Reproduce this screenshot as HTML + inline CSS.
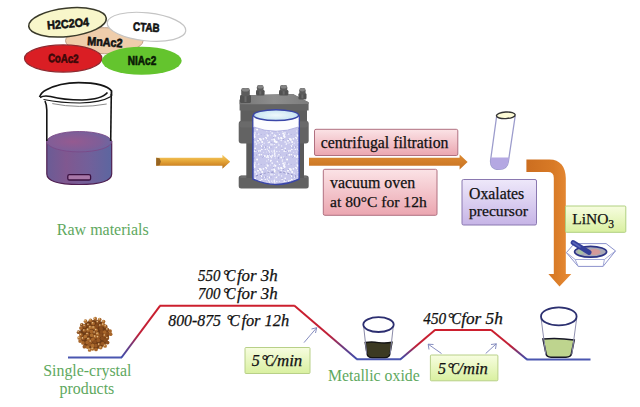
<!DOCTYPE html>
<html><head><meta charset="utf-8">
<style>
html,body{margin:0;padding:0;background:#fff;}
body{width:640px;height:407px;overflow:hidden;position:relative;}
svg{position:absolute;left:0;top:0;}
.ser{font-family:"Liberation Serif",serif;}
.san{font-family:"Liberation Sans",sans-serif;font-weight:bold;}
</style></head>
<body>
<svg width="640" height="407" viewBox="0 0 640 407">
<defs>
  <linearGradient id="pinkG" x1="0" y1="0" x2="0" y2="1">
    <stop offset="0" stop-color="#fbe3e6"/><stop offset="1" stop-color="#eba6b0"/>
  </linearGradient>
  <linearGradient id="lavG" x1="0" y1="0" x2="0" y2="1">
    <stop offset="0" stop-color="#eee8fa"/><stop offset="1" stop-color="#c6b4e6"/>
  </linearGradient>
  <linearGradient id="grnG" x1="0" y1="0" x2="0" y2="1">
    <stop offset="0" stop-color="#f7fde0"/><stop offset="1" stop-color="#d9f0a0"/>
  </linearGradient>
  <linearGradient id="arrG" x1="0" y1="0" x2="0" y2="1">
    <stop offset="0" stop-color="#f6d070"/><stop offset="0.35" stop-color="#eab040"/><stop offset="0.7" stop-color="#d48c28"/><stop offset="1" stop-color="#a86a1a"/>
  </linearGradient>
  <linearGradient id="liqG" x1="0" y1="0" x2="1" y2="0">
    <stop offset="0" stop-color="#6a5c96"/><stop offset="0.3" stop-color="#805890"/><stop offset="0.65" stop-color="#72609a"/><stop offset="1" stop-color="#5c66a0"/>
  </linearGradient>
  <radialGradient id="liqTop" cx="0.4" cy="0.5" r="0.6">
    <stop offset="0" stop-color="#955a90"/><stop offset="0.7" stop-color="#7f5e98"/><stop offset="1" stop-color="#6c66a0"/>
  </radialGradient>
  <linearGradient id="lidG" x1="0" y1="0" x2="1" y2="0">
    <stop offset="0" stop-color="#767676"/><stop offset="0.5" stop-color="#8e8e8e"/><stop offset="1" stop-color="#7c7c7c"/>
  </linearGradient>
  <radialGradient id="topG" cx="0.5" cy="0.5" r="0.55">
    <stop offset="0" stop-color="#eef8fc"/><stop offset="0.75" stop-color="#cfe8f4"/><stop offset="1" stop-color="#a8c8e8"/>
  </radialGradient>
  <linearGradient id="elbG" x1="0" y1="0" x2="1" y2="0">
    <stop offset="0" stop-color="#cc6e20"/><stop offset="0.6" stop-color="#d87a26"/><stop offset="1" stop-color="#e88c36"/>
  </linearGradient>
  <linearGradient id="arr2G" x1="0" y1="0" x2="0" y2="1">
    <stop offset="0" stop-color="#dc8a32"/><stop offset="1" stop-color="#c87222"/>
  </linearGradient>
  <linearGradient id="rise1" x1="0" y1="1" x2="0" y2="0">
    <stop offset="0" stop-color="#3e4cac"/><stop offset="0.22" stop-color="#6c3a80"/><stop offset="0.45" stop-color="#c02038"/><stop offset="1" stop-color="#cc1e2c"/>
  </linearGradient>
  <pattern id="speck" width="30" height="30" patternUnits="userSpaceOnUse"><rect width="30" height="30" fill="#c8c8ec"/><circle cx="4.9" cy="20.7" r="0.80" fill="#ffffff"/><circle cx="25.3" cy="29.7" r="0.71" fill="#fafaff"/><circle cx="5.5" cy="15.8" r="0.88" fill="#ffffff"/><circle cx="11.1" cy="17.6" r="0.49" fill="#f4f4ff"/><circle cx="27.6" cy="20.8" r="0.69" fill="#ffffff"/><circle cx="18.5" cy="1.0" r="0.63" fill="#ffffff"/><circle cx="20.8" cy="19.5" r="0.97" fill="#ffffff"/><circle cx="4.6" cy="24.5" r="0.52" fill="#ffffff"/><circle cx="13.6" cy="16.6" r="0.64" fill="#ffffff"/><circle cx="4.5" cy="20.0" r="0.71" fill="#f4f4ff"/><circle cx="2.2" cy="5.9" r="0.82" fill="#fafaff"/><circle cx="29.7" cy="2.1" r="0.76" fill="#fafaff"/><circle cx="24.8" cy="6.0" r="0.96" fill="#fafaff"/><circle cx="12.3" cy="11.0" r="0.70" fill="#ffffff"/><circle cx="9.5" cy="14.5" r="0.60" fill="#ffffff"/><circle cx="4.8" cy="21.5" r="0.99" fill="#ffffff"/><circle cx="14.7" cy="16.5" r="0.86" fill="#f4f4ff"/><circle cx="17.1" cy="9.6" r="0.99" fill="#ffffff"/><circle cx="5.4" cy="5.1" r="0.64" fill="#e8e8fa"/><circle cx="10.4" cy="17.9" r="0.62" fill="#ffffff"/><circle cx="5.1" cy="27.7" r="0.55" fill="#ffffff"/><circle cx="11.2" cy="20.5" r="0.82" fill="#f4f4ff"/><circle cx="12.2" cy="29.7" r="0.98" fill="#fafaff"/><circle cx="0.4" cy="10.4" r="0.73" fill="#f4f4ff"/><circle cx="28.1" cy="7.4" r="0.76" fill="#ffffff"/><circle cx="24.2" cy="23.2" r="0.72" fill="#e8e8fa"/><circle cx="1.6" cy="7.7" r="0.61" fill="#ffffff"/><circle cx="7.5" cy="11.8" r="0.93" fill="#f4f4ff"/><circle cx="29.5" cy="22.4" r="0.71" fill="#e8e8fa"/><circle cx="4.2" cy="19.5" r="0.95" fill="#ffffff"/><circle cx="0.8" cy="6.4" r="0.91" fill="#f4f4ff"/><circle cx="26.4" cy="18.0" r="0.68" fill="#fafaff"/><circle cx="27.1" cy="14.3" r="0.53" fill="#fafaff"/><circle cx="8.3" cy="23.0" r="0.46" fill="#f4f4ff"/><circle cx="28.6" cy="0.7" r="0.78" fill="#f4f4ff"/><circle cx="25.6" cy="17.5" r="0.59" fill="#ffffff"/><circle cx="22.5" cy="24.4" r="0.53" fill="#f4f4ff"/><circle cx="2.8" cy="2.8" r="0.46" fill="#ffffff"/><circle cx="23.6" cy="2.2" r="0.52" fill="#e8e8fa"/><circle cx="3.8" cy="16.2" r="0.63" fill="#ffffff"/><circle cx="26.6" cy="18.6" r="0.55" fill="#ffffff"/><circle cx="6.0" cy="22.3" r="0.87" fill="#fafaff"/><circle cx="21.3" cy="26.2" r="0.88" fill="#ffffff"/><circle cx="11.6" cy="25.9" r="0.67" fill="#fafaff"/><circle cx="5.3" cy="21.3" r="0.59" fill="#fafaff"/><circle cx="9.4" cy="1.3" r="0.66" fill="#e8e8fa"/><circle cx="21.8" cy="29.7" r="0.90" fill="#fafaff"/><circle cx="14.7" cy="17.2" r="0.75" fill="#ffffff"/><circle cx="15.2" cy="22.0" r="0.98" fill="#e8e8fa"/><circle cx="8.7" cy="18.7" r="0.87" fill="#f4f4ff"/><circle cx="1.9" cy="24.4" r="0.99" fill="#e8e8fa"/><circle cx="2.0" cy="19.7" r="0.68" fill="#ffffff"/><circle cx="19.6" cy="18.8" r="0.89" fill="#ffffff"/><circle cx="15.2" cy="28.4" r="0.82" fill="#ffffff"/><circle cx="14.1" cy="15.4" r="0.93" fill="#ffffff"/><circle cx="6.8" cy="1.5" r="0.69" fill="#f4f4ff"/><circle cx="8.3" cy="17.7" r="0.67" fill="#ffffff"/><circle cx="13.7" cy="7.1" r="0.66" fill="#ffffff"/><circle cx="6.8" cy="27.4" r="0.81" fill="#ffffff"/><circle cx="14.4" cy="14.8" r="0.84" fill="#f4f4ff"/><circle cx="23.4" cy="18.8" r="0.87" fill="#fafaff"/><circle cx="21.0" cy="20.5" r="0.58" fill="#ffffff"/><circle cx="11.6" cy="18.4" r="0.90" fill="#ffffff"/><circle cx="4.9" cy="6.1" r="0.93" fill="#f4f4ff"/><circle cx="2.7" cy="5.3" r="0.74" fill="#fafaff"/><circle cx="28.3" cy="22.3" r="0.70" fill="#ffffff"/><circle cx="29.7" cy="5.0" r="0.69" fill="#e8e8fa"/><circle cx="11.2" cy="17.5" r="0.55" fill="#ffffff"/><circle cx="28.5" cy="9.7" r="0.59" fill="#f4f4ff"/><circle cx="27.0" cy="15.2" r="0.58" fill="#e8e8fa"/><circle cx="21.5" cy="4.7" r="0.67" fill="#ffffff"/><circle cx="13.1" cy="18.5" r="0.60" fill="#f4f4ff"/><circle cx="20.0" cy="18.7" r="0.50" fill="#f4f4ff"/><circle cx="1.0" cy="24.3" r="0.96" fill="#e8e8fa"/><circle cx="0.6" cy="15.0" r="0.47" fill="#fafaff"/><circle cx="13.2" cy="13.5" r="0.99" fill="#fafaff"/><circle cx="4.4" cy="29.2" r="0.55" fill="#e8e8fa"/><circle cx="26.8" cy="11.1" r="0.52" fill="#ffffff"/><circle cx="15.9" cy="1.5" r="0.55" fill="#ffffff"/><circle cx="26.5" cy="7.3" r="0.77" fill="#fafaff"/><circle cx="27.8" cy="26.5" r="0.46" fill="#fafaff"/><circle cx="2.2" cy="13.1" r="0.91" fill="#f4f4ff"/><circle cx="4.6" cy="14.9" r="0.74" fill="#fafaff"/><circle cx="18.6" cy="14.1" r="0.89" fill="#e8e8fa"/><circle cx="4.6" cy="4.6" r="0.61" fill="#ffffff"/><circle cx="26.7" cy="2.1" r="0.49" fill="#fafaff"/><circle cx="2.9" cy="24.8" r="0.65" fill="#e8e8fa"/><circle cx="1.8" cy="1.1" r="0.72" fill="#ffffff"/><circle cx="4.7" cy="3.1" r="0.96" fill="#fafaff"/><circle cx="7.5" cy="6.0" r="0.56" fill="#fafaff"/><circle cx="12.7" cy="9.7" r="0.57" fill="#fafaff"/><circle cx="1.2" cy="10.6" r="0.74" fill="#f4f4ff"/><circle cx="0.6" cy="11.1" r="0.71" fill="#ffffff"/><circle cx="24.2" cy="27.2" r="0.82" fill="#f4f4ff"/><circle cx="20.4" cy="19.4" r="0.79" fill="#fafaff"/><circle cx="27.3" cy="29.1" r="0.66" fill="#ffffff"/><circle cx="28.1" cy="23.8" r="0.46" fill="#e8e8fa"/><circle cx="5.2" cy="8.0" r="0.46" fill="#ffffff"/><circle cx="19.4" cy="4.8" r="0.96" fill="#fafaff"/><circle cx="15.0" cy="12.4" r="0.57" fill="#fafaff"/><circle cx="16.6" cy="23.3" r="0.86" fill="#e8e8fa"/><circle cx="27.3" cy="7.2" r="0.78" fill="#e8e8fa"/><circle cx="16.2" cy="24.4" r="0.65" fill="#f4f4ff"/><circle cx="29.8" cy="27.4" r="0.98" fill="#ffffff"/><circle cx="29.5" cy="22.2" r="0.86" fill="#f4f4ff"/><circle cx="27.8" cy="15.7" r="0.94" fill="#fafaff"/><circle cx="8.9" cy="4.8" r="0.81" fill="#fafaff"/><circle cx="19.2" cy="23.1" r="0.86" fill="#f4f4ff"/><circle cx="7.6" cy="12.9" r="0.66" fill="#ffffff"/><circle cx="14.3" cy="1.2" r="0.92" fill="#f4f4ff"/><circle cx="1.1" cy="24.7" r="0.77" fill="#e8e8fa"/><circle cx="22.1" cy="21.9" r="1.00" fill="#ffffff"/><circle cx="4.3" cy="1.0" r="0.88" fill="#fafaff"/><circle cx="8.9" cy="25.0" r="0.70" fill="#ffffff"/><circle cx="6.8" cy="22.0" r="0.90" fill="#ffffff"/><circle cx="20.2" cy="0.8" r="0.95" fill="#f4f4ff"/><circle cx="15.0" cy="13.8" r="0.66" fill="#ffffff"/><circle cx="18.0" cy="20.8" r="0.93" fill="#ffffff"/><circle cx="11.2" cy="7.5" r="0.88" fill="#ffffff"/><circle cx="27.8" cy="6.0" r="0.92" fill="#ffffff"/><circle cx="22.4" cy="7.5" r="0.38" fill="#9c9cd4"/><circle cx="22.6" cy="28.1" r="0.38" fill="#9c9cd4"/><circle cx="18.5" cy="19.4" r="0.48" fill="#9c9cd4"/><circle cx="4.0" cy="23.1" r="0.47" fill="#9c9cd4"/><circle cx="1.0" cy="27.0" r="0.58" fill="#9c9cd4"/><circle cx="15.7" cy="0.3" r="0.56" fill="#9c9cd4"/><circle cx="8.5" cy="7.9" r="0.56" fill="#9c9cd4"/><circle cx="1.8" cy="22.7" r="0.50" fill="#9c9cd4"/><circle cx="15.3" cy="29.9" r="0.41" fill="#9c9cd4"/><circle cx="21.1" cy="14.6" r="0.48" fill="#9c9cd4"/><circle cx="16.5" cy="13.0" r="0.36" fill="#9c9cd4"/><circle cx="28.5" cy="4.3" r="0.45" fill="#9c9cd4"/><circle cx="13.3" cy="19.4" r="0.53" fill="#9c9cd4"/><circle cx="17.6" cy="13.2" r="0.41" fill="#9c9cd4"/><circle cx="25.6" cy="26.9" r="0.56" fill="#9c9cd4"/><circle cx="23.2" cy="27.1" r="0.54" fill="#9c9cd4"/><circle cx="10.3" cy="4.6" r="0.35" fill="#9c9cd4"/><circle cx="8.1" cy="20.8" r="0.42" fill="#9c9cd4"/><circle cx="28.9" cy="13.7" r="0.40" fill="#9c9cd4"/><circle cx="0.3" cy="4.7" r="0.39" fill="#9c9cd4"/><circle cx="16.5" cy="5.0" r="0.51" fill="#9c9cd4"/><circle cx="18.9" cy="3.7" r="0.38" fill="#9c9cd4"/><circle cx="21.0" cy="6.2" r="0.35" fill="#9c9cd4"/><circle cx="23.4" cy="6.6" r="0.49" fill="#9c9cd4"/><circle cx="7.3" cy="13.0" r="0.55" fill="#9c9cd4"/><circle cx="27.9" cy="21.0" r="0.55" fill="#9c9cd4"/><circle cx="12.0" cy="28.8" r="0.55" fill="#9c9cd4"/><circle cx="20.6" cy="26.5" r="0.45" fill="#9c9cd4"/><circle cx="17.3" cy="1.4" r="0.45" fill="#9c9cd4"/><circle cx="24.2" cy="14.5" r="0.36" fill="#9c9cd4"/><circle cx="19.2" cy="23.4" r="0.41" fill="#9c9cd4"/><circle cx="14.2" cy="7.9" r="0.56" fill="#9c9cd4"/><circle cx="8.7" cy="11.1" r="0.47" fill="#9c9cd4"/><circle cx="7.9" cy="27.5" r="0.42" fill="#9c9cd4"/><circle cx="3.5" cy="17.5" r="0.47" fill="#9c9cd4"/></pattern>
</defs>

<!-- ===== reagent ellipses ===== -->
<ellipse cx="104.3" cy="40.7" rx="38.8" ry="13" fill="#efcdab" stroke="#c0a088" stroke-width="1"/>
<ellipse cx="146.5" cy="26.8" rx="39.5" ry="14" fill="#ffffff" stroke="#c4c4c4" stroke-width="1.2" transform="rotate(6 146.5 26.8)"/>
<ellipse cx="67.5" cy="22.3" rx="39" ry="14.2" fill="#f8f6ca" stroke="#3a3a2a" stroke-width="1.6" transform="rotate(-6 67.5 22.3)"/>
<text x="68" y="27.8" class="san" font-size="12" text-anchor="middle" textLength="42" lengthAdjust="spacingAndGlyphs" fill="#111" stroke="#111" stroke-width="0.6" transform="rotate(-5 68 24)">H2C2O4</text>
<text x="146.4" y="31.4" class="san" font-size="12" text-anchor="middle" textLength="26.5" lengthAdjust="spacingAndGlyphs" fill="#111" stroke="#111" stroke-width="0.6" transform="rotate(4 146.4 27)">CTAB</text>
<text x="105" y="46.2" class="san" font-size="12" text-anchor="middle" textLength="35.5" lengthAdjust="spacingAndGlyphs" fill="#111" stroke="#111" stroke-width="0.6" transform="rotate(4 105 41)">MnAc2</text>
<ellipse cx="63.2" cy="58.5" rx="38.7" ry="13.6" fill="#da1e24" stroke="#8e2a30" stroke-width="1.2"/>
<ellipse cx="141.7" cy="60.8" rx="40" ry="14" fill="#64c42e"/>
<text x="63.3" y="62.5" class="san" font-size="12" text-anchor="middle" textLength="30.5" lengthAdjust="spacingAndGlyphs" fill="#3a0808" stroke="#3a0808" stroke-width="0.6" transform="rotate(2 63.3 58)">CoAc2</text>
<text x="142" y="64.7" class="san" font-size="12" text-anchor="middle" textLength="28.5" lengthAdjust="spacingAndGlyphs" fill="#0a1a05" stroke="#0a1a05" stroke-width="0.6">NiAc2</text>

<!-- ===== beaker ===== -->
<g>
  <path d="M46.8,141.5 L46.8,174 Q47,184.5 79,184.5 Q111.5,184.5 111.7,174 L111.7,141.5 Z" fill="url(#liqG)" stroke="#4e1e50" stroke-width="1.2"/>
  <ellipse cx="79.2" cy="141.7" rx="32.4" ry="10.2" fill="url(#liqTop)" stroke="#7a4a88" stroke-width="0.9"/>
  <rect x="67.8" y="174.6" width="22.8" height="5.4" rx="1.6" fill="#a878a8" stroke="#3a1040" stroke-width="1.3"/>
  <path d="M45,101 Q46.5,104 46.8,110 L46.8,141" fill="none" stroke="#151515" stroke-width="1.6"/>
  <path d="M111.3,94 L110.7,141" fill="none" stroke="#151515" stroke-width="1.6"/>
  <path d="M39.6,97 Q41,92.5 46,90 C56,84.5 68,82.6 78.5,82.6 C96,82.6 108,86 111.5,91 L111.4,96" fill="none" stroke="#151515" stroke-width="1.8"/>
  <path d="M40,97.5 Q44,95 50.5,96.5 C61,99.3 72,100 82,100 C95,99.6 104,96.5 107.5,92.5" fill="none" stroke="#151515" stroke-width="1.6"/>
  <path d="M43.5,99.5 C56,102 68,103 80,103 C95,102.6 106,99.5 111,96.5" fill="none" stroke="#151515" stroke-width="1.2"/>
  <path d="M52.3,103.6 Q79,109 106.7,104" fill="none" stroke="#8a8a8a" stroke-width="1"/>
</g>

<!-- ===== arrow 1 ===== -->
<path d="M156.2,157.8 L222.4,157.8 L222.4,154.8 L230.2,161.8 L222.4,168.8 L222.4,165.8 L156.2,165.8 Z" fill="url(#arrG)"/>
<path d="M156.2,157.8 L159.5,158.3 L161,161.5 L159.5,165.3 L156.2,165.8 Z" fill="#8a5a1e" opacity="0.85"/>

<!-- ===== autoclave ===== -->
<g>
  <rect x="238.7" y="175.5" width="70" height="13" rx="2.5" fill="#626262"/>
  <path d="M240,178 L307.5,178 L306,175.8 L241,175.8 Z" fill="#6e6e6e"/>
  <rect x="246.3" y="140" width="57.7" height="38" fill="#5a5a5a"/>
  <rect x="240.5" y="105" width="66.5" height="18" fill="#5e5e5e"/>
  <rect x="238.7" y="120.7" width="70" height="22.7" rx="3" fill="#636363"/>
  <rect x="239.5" y="121.5" width="68.5" height="6" rx="2" fill="#6a6a6a"/>
  <path d="M239.6,99.8 L251.4,95 L293,94 L308.6,102.2 L308.6,110.5 L239.6,110.5 Z" fill="#646464"/>
  <path d="M239.6,99.8 L251.4,95 L293,94 L308.6,102.2 L308.6,104 L239.6,104.2 Z" fill="url(#lidG)"/>
  <g><rect x="256.0" y="89.8" width="8.6" height="5.8" rx="1.5" fill="#525252"/><rect x="259.3" y="90.8" width="2.0" height="3.8" fill="#6a6a6a"/><rect x="256.9" y="85.0" width="6.7" height="6.3" rx="2.2" fill="#5c5c5c"/><ellipse cx="260.3" cy="86.8" rx="2.9" ry="1.8" fill="#858585"/><rect x="279.0" y="89.8" width="9.4" height="5.8" rx="1.5" fill="#525252"/><rect x="282.7" y="90.8" width="2.0" height="3.8" fill="#6a6a6a"/><rect x="280.0" y="85.0" width="7.3" height="6.3" rx="2.2" fill="#5c5c5c"/><ellipse cx="283.7" cy="86.8" rx="3.2" ry="1.8" fill="#858585"/><rect x="240.0" y="94.8" width="11.0" height="8.2" rx="1.5" fill="#525252"/><rect x="244.5" y="95.8" width="2.0" height="6.2" fill="#6a6a6a"/><rect x="241.2" y="88.0" width="8.6" height="8.2" rx="2.2" fill="#5c5c5c"/><ellipse cx="245.5" cy="89.8" rx="3.8" ry="1.8" fill="#858585"/><rect x="298.4" y="93.1" width="8.1" height="6.3" rx="1.5" fill="#525252"/><rect x="301.4" y="94.1" width="2.0" height="4.3" fill="#6a6a6a"/><rect x="299.3" y="88.0" width="6.3" height="6.6" rx="2.2" fill="#5c5c5c"/><ellipse cx="302.4" cy="89.8" rx="2.7" ry="1.8" fill="#858585"/></g>
  <path d="M252.9,116 L252.9,179 Q276,190 299.2,179 L299.2,116 Z" fill="url(#speck)" stroke="#3a46a8" stroke-width="1.5"/>
  <path d="M253.6,115 L253.6,127 Q276,135.5 298.5,127 L298.5,115 Z" fill="#fdfdff"/>
  <path d="M253.6,127 Q276,135.5 298.5,127" fill="none" stroke="#a4a4dc" stroke-width="0.8"/>
  <path d="M256,176 Q276,168 296,176" fill="none" stroke="#7a7ab8" stroke-width="0.8" stroke-dasharray="2 2"/>
  <ellipse cx="276" cy="115.2" rx="22.6" ry="5.4" fill="url(#topG)" stroke="#3a46a8" stroke-width="1.5"/>
</g>

<!-- ===== centrifugal / vacuum boxes ===== -->
<path d="M309,157.8 L459.6,157.8 L459.6,154.6 L467.6,162 L459.6,169.6 L459.6,165.8 L309,165.8 Z" fill="url(#arr2G)"/>
<rect x="314.5" y="129.3" width="143.3" height="26.2" rx="1.5" fill="url(#pinkG)" stroke="#b07080" stroke-width="1"/>
<text x="320.8" y="148.1" class="ser" font-size="15.8" fill="#111" stroke="#111" stroke-width="0.25">centrifugal filtration</text>
<rect x="323.3" y="169.3" width="113.7" height="46" rx="1.5" fill="url(#pinkG)" stroke="#b07080" stroke-width="1"/>
<text x="330" y="188" class="ser" font-size="15.9" fill="#111" stroke="#111" stroke-width="0.25">vacuum oven</text>
<text x="330" y="206.5" class="ser" font-size="15.6" fill="#111" stroke="#111" stroke-width="0.25">at 80°C for 12h</text>

<!-- ===== test tube ===== -->
<g>
  <path d="M496.6,116.5 L490.6,160 Q489.8,169.4 499,169.4 Q507.5,169.4 508.4,161.5 L515.2,116" fill="#fff" stroke="#9c9ccc" stroke-width="1.3"/>
  <path d="M491.3,157.4 L509.2,157.4 L508.4,161.5 Q507.5,169.4 499,169.4 Q489.8,169.4 490.6,160 Z" fill="#b4a8e2"/>
  <ellipse cx="505.8" cy="115.3" rx="9.4" ry="3.3" fill="#fdfbd6" stroke="#333" stroke-width="1.4" transform="rotate(-3 505.8 115.3)"/>
</g>

<!-- ===== oxalates box ===== -->
<rect x="462" y="179.5" width="74.5" height="45.5" rx="1.5" fill="url(#lavG)" stroke="#8a78b0" stroke-width="1"/>
<text x="469" y="198.8" class="ser" font-size="15.8" fill="#111" stroke="#111" stroke-width="0.25">Oxalates</text>
<text x="469" y="216.2" class="ser" font-size="15.6" fill="#111" stroke="#111" stroke-width="0.25">precursor</text>

<!-- ===== elbow arrow ===== -->
<path d="M526.4,159.6 L549.5,159.6 C560,159.6 565.8,167 565.8,178.3 L565.8,274 L571.3,274 L559.5,286.5 L548.4,274 L553.8,274 L553.8,178 Q553.8,172.1 548,172.1 L526.4,172.1 Z" fill="url(#elbG)"/>

<!-- ===== LiNO3 box ===== -->
<rect x="565.5" y="206" width="60.3" height="26.3" rx="1" fill="url(#grnG)" stroke="#b0d080" stroke-width="1"/>
<text x="572.2" y="224.2" class="ser" font-size="15.5" fill="#111" stroke="#111" stroke-width="0.25">LiNO<tspan font-size="11.5" dy="3.8">3</tspan></text>

<!-- ===== mortar ===== -->
<path d="M566.4,252.6 L574.3,243.6 L606.1,243.6 L615.5,250.9 L603.1,266.4 L578.2,266.4 Z" fill="#fff" stroke="#8c92cc" stroke-width="1"/>
<path d="M566.4,252.6 L575.2,259.5 L604.4,259.5 L615.5,250.9 M575.2,259.5 L578.2,266.4 M604.4,259.5 L603.1,266.4" fill="none" stroke="#9aa0d4" stroke-width="0.9"/>
<ellipse cx="590.6" cy="251.8" rx="16" ry="5.4" fill="#a8a8b6" stroke="#2c3486" stroke-width="1.7"/>
<ellipse cx="594.5" cy="252" rx="6" ry="3" fill="#d49a9a"/>
<ellipse cx="580.5" cy="252" rx="3" ry="2.2" fill="#a8c0a0"/>
<path d="M573.2,242.6 L589,252.4" stroke="#34409a" stroke-width="5" stroke-linecap="round"/>
<path d="M573,242.5 L580,247" stroke="#5a66b8" stroke-width="1.5" stroke-linecap="round"/>

<!-- ===== temperature profile ===== -->
<g fill="none" stroke-width="2">
  <line x1="68" y1="357.5" x2="122" y2="357.5" stroke="#4a56b0"/>
  <line x1="121.5" y1="357.5" x2="160" y2="305.8" stroke="url(#rise1)"/>
  <line x1="159.5" y1="305.8" x2="294.8" y2="305.8" stroke="#cc1f2e"/>
  <line x1="294.5" y1="305.8" x2="357" y2="359.3" stroke="url(#rise1)"/>
  <line x1="356.5" y1="359.3" x2="401" y2="359.3" stroke="#4a56b0"/>
  <line x1="400.5" y1="359.3" x2="435" y2="330" stroke="url(#rise1)"/>
  <line x1="434.5" y1="330" x2="491.5" y2="330" stroke="#cc1f2e"/>
  <line x1="491.2" y1="330" x2="527" y2="359.5" stroke="url(#rise1)"/>
  <line x1="526.5" y1="359.5" x2="590.5" y2="359.5" stroke="#4a56b0"/>
</g>

<!-- particles ball -->
<g id="ball"><circle cx="94.4" cy="334.6" r="14.7" fill="#6e3c16"/><circle cx="84.3" cy="330.6" r="1.85" fill="#9a5a24"/><circle cx="79.2" cy="337.9" r="1.85" fill="#b07030"/><circle cx="87.5" cy="334.1" r="1.85" fill="#9a5a24"/><circle cx="97.8" cy="322.2" r="1.85" fill="#8a4e1e"/><circle cx="92.8" cy="339.3" r="1.85" fill="#a8662a"/><circle cx="96.2" cy="330.1" r="1.85" fill="#a8662a"/><circle cx="107.4" cy="338.1" r="1.85" fill="#8a4e1e"/><circle cx="110.1" cy="331.1" r="1.85" fill="#a8662a"/><circle cx="84.6" cy="325.9" r="1.85" fill="#9a5a24"/><circle cx="100.8" cy="335.2" r="1.85" fill="#8a4e1e"/><circle cx="94.8" cy="341.7" r="1.85" fill="#8a4e1e"/><circle cx="91.7" cy="335.2" r="1.85" fill="#b07030"/><circle cx="100.3" cy="325.6" r="1.85" fill="#8a4e1e"/><circle cx="88.4" cy="324.8" r="1.85" fill="#8a4e1e"/><circle cx="92.5" cy="345.4" r="1.85" fill="#b07030"/><circle cx="110.6" cy="334.2" r="1.85" fill="#a8662a"/><circle cx="90.5" cy="320.3" r="1.85" fill="#a8662a"/><circle cx="102.3" cy="338.3" r="1.85" fill="#8a4e1e"/><circle cx="82.9" cy="342.9" r="1.85" fill="#a8662a"/><circle cx="103.5" cy="321.6" r="1.85" fill="#a8662a"/><circle cx="91.4" cy="331.4" r="1.85" fill="#a8662a"/><circle cx="92.6" cy="348.8" r="1.85" fill="#b07030"/><circle cx="95.2" cy="318.7" r="1.85" fill="#a8662a"/><circle cx="100.7" cy="347.6" r="1.85" fill="#b07030"/><circle cx="82.9" cy="338.5" r="1.85" fill="#9a5a24"/><circle cx="93.6" cy="327.6" r="1.85" fill="#b07030"/><circle cx="99.7" cy="319.5" r="1.85" fill="#a8662a"/><circle cx="101.1" cy="328.7" r="1.85" fill="#8a4e1e"/><circle cx="88.5" cy="339.2" r="1.85" fill="#a8662a"/><circle cx="87.6" cy="347.1" r="1.85" fill="#b07030"/><circle cx="88.0" cy="329.9" r="1.85" fill="#b07030"/><circle cx="98.3" cy="340.3" r="1.85" fill="#9a5a24"/><circle cx="107.4" cy="329.5" r="1.85" fill="#8a4e1e"/><circle cx="97.5" cy="333.9" r="1.85" fill="#b07030"/><circle cx="102.7" cy="343.6" r="1.85" fill="#9a5a24"/><circle cx="85.5" cy="321.2" r="1.85" fill="#b07030"/><circle cx="93.0" cy="323.4" r="1.85" fill="#a8662a"/><circle cx="105.7" cy="326.4" r="1.85" fill="#9a5a24"/><circle cx="80.9" cy="328.0" r="1.85" fill="#a8662a"/><circle cx="95.8" cy="345.7" r="1.85" fill="#9a5a24"/><circle cx="80.9" cy="334.8" r="1.85" fill="#a8662a"/><circle cx="96.7" cy="325.9" r="1.85" fill="#8a4e1e"/><circle cx="99.2" cy="344.7" r="1.85" fill="#8a4e1e"/><circle cx="107.6" cy="342.6" r="1.85" fill="#8a4e1e"/><circle cx="78.6" cy="332.2" r="1.85" fill="#8a4e1e"/><circle cx="105.1" cy="345.9" r="1.85" fill="#b07030"/><circle cx="96.0" cy="349.5" r="1.85" fill="#a8662a"/><circle cx="95.1" cy="336.7" r="1.85" fill="#a8662a"/><circle cx="85.3" cy="336.5" r="1.85" fill="#b07030"/><circle cx="101.7" cy="331.9" r="1.85" fill="#8a4e1e"/><circle cx="107.5" cy="333.7" r="1.85" fill="#8a4e1e"/><circle cx="87.2" cy="342.4" r="1.85" fill="#a8662a"/><circle cx="104.8" cy="335.6" r="1.85" fill="#9a5a24"/><circle cx="105.0" cy="340.1" r="1.85" fill="#8a4e1e"/><circle cx="84.4" cy="346.7" r="1.85" fill="#9a5a24"/><circle cx="89.6" cy="349.9" r="1.85" fill="#b07030"/><circle cx="90.3" cy="327.4" r="1.85" fill="#b07030"/><circle cx="104.7" cy="332.1" r="1.85" fill="#a8662a"/><circle cx="90.7" cy="341.6" r="1.85" fill="#9a5a24"/><circle cx="81.8" cy="324.8" r="1.85" fill="#8a4e1e"/><circle cx="94.6" cy="332.6" r="1.85" fill="#8a4e1e"/><circle cx="98.0" cy="337.2" r="1.85" fill="#9a5a24"/><circle cx="80.1" cy="341.1" r="1.85" fill="#a8662a"/><circle cx="89.5" cy="344.5" r="1.85" fill="#9a5a24"/><circle cx="103.2" cy="324.7" r="1.85" fill="#a8662a"/><circle cx="83.8" cy="330.0" r="0.8" fill="#e6c088"/><circle cx="78.7" cy="337.3" r="0.8" fill="#e6c088"/><circle cx="87.0" cy="333.5" r="0.8" fill="#e6c088"/><circle cx="97.3" cy="321.6" r="0.8" fill="#e6c088"/><circle cx="95.7" cy="329.5" r="0.8" fill="#e6c088"/><circle cx="106.9" cy="337.5" r="0.8" fill="#e6c088"/><circle cx="84.1" cy="325.3" r="0.8" fill="#e6c088"/><circle cx="99.8" cy="325.0" r="0.8" fill="#e6c088"/><circle cx="87.9" cy="324.2" r="0.8" fill="#e6c088"/><circle cx="90.0" cy="319.7" r="0.8" fill="#e6c088"/><circle cx="103.0" cy="321.0" r="0.8" fill="#e6c088"/><circle cx="92.1" cy="348.2" r="0.8" fill="#e6c088"/><circle cx="94.7" cy="318.1" r="0.8" fill="#e6c088"/><circle cx="100.2" cy="347.0" r="0.8" fill="#e6c088"/><circle cx="82.4" cy="337.9" r="0.8" fill="#e6c088"/><circle cx="93.1" cy="327.0" r="0.8" fill="#e6c088"/><circle cx="99.2" cy="318.9" r="0.8" fill="#e6c088"/><circle cx="88.0" cy="338.6" r="0.8" fill="#e6c088"/><circle cx="87.5" cy="329.3" r="0.8" fill="#e6c088"/><circle cx="106.9" cy="328.9" r="0.8" fill="#e6c088"/><circle cx="97.0" cy="333.3" r="0.8" fill="#e6c088"/><circle cx="85.0" cy="320.6" r="0.8" fill="#e6c088"/><circle cx="92.5" cy="322.8" r="0.8" fill="#e6c088"/><circle cx="105.2" cy="325.8" r="0.8" fill="#e6c088"/><circle cx="80.4" cy="334.2" r="0.8" fill="#e6c088"/><circle cx="98.7" cy="344.1" r="0.8" fill="#e6c088"/><circle cx="78.1" cy="331.6" r="0.8" fill="#e6c088"/><circle cx="104.6" cy="345.3" r="0.8" fill="#e6c088"/><circle cx="94.6" cy="336.1" r="0.8" fill="#e6c088"/><circle cx="104.3" cy="335.0" r="0.8" fill="#e6c088"/><circle cx="89.1" cy="349.3" r="0.8" fill="#e6c088"/><circle cx="89.8" cy="326.8" r="0.8" fill="#e6c088"/><circle cx="90.2" cy="341.0" r="0.8" fill="#e6c088"/><circle cx="81.3" cy="324.2" r="0.8" fill="#e6c088"/><circle cx="94.1" cy="332.0" r="0.8" fill="#e6c088"/><circle cx="97.5" cy="336.6" r="0.8" fill="#e6c088"/><circle cx="102.7" cy="324.1" r="0.8" fill="#e6c088"/></g>

<!-- labels -->
<text x="56.8" y="235.3" class="ser" font-size="16" fill="#5ea85e">Raw materials</text>
<text x="43.2" y="375.8" class="ser" font-size="15.9" fill="#5ea85e">Single-crystal</text>
<text x="59.5" y="393.6" class="ser" font-size="15.9" fill="#5ea85e">products</text>
<text x="328" y="381.1" class="ser" font-size="15.8" fill="#5ea85e">Metallic oxide</text>



<!-- 5C/min boxes -->
<rect x="245" y="347.5" width="65" height="26" rx="1" fill="url(#grnG)" stroke="#b8d088" stroke-width="1"/>

<rect x="430.4" y="355" width="67.5" height="25.8" rx="1" fill="url(#grnG)" stroke="#b8d088" stroke-width="1"/>


<!-- small arrows -->
<g stroke="#7880b8" stroke-width="0.9" fill="none">
  <path d="M304,342.6 L316.7,327.7 M311.5,329 L316.7,327.7 L315.5,333"/>
  <path d="M441.5,353.5 L428.2,344.2 M429,349.5 L428.2,344.2 L433.5,344.5"/>
  <path d="M485.7,353.5 L496.3,343.8 M491,344.5 L496.3,343.8 L495.5,349"/>
</g>

<g class="ser" font-style="italic" font-size="16" fill="#111" stroke="#111" stroke-width="0.25">
<text x="198" y="280.6" textLength="22.4" lengthAdjust="spacingAndGlyphs">550</text><text x="222.7" y="280.6">°</text><text x="226" y="280.6" textLength="9.5" lengthAdjust="spacingAndGlyphs">C</text><text x="236.9" y="280.6" textLength="40.7" lengthAdjust="spacingAndGlyphs">for 3h</text>
<text x="198" y="298.9" textLength="22.4" lengthAdjust="spacingAndGlyphs">700</text><text x="222.7" y="298.9">°</text><text x="226" y="298.9" textLength="9.5" lengthAdjust="spacingAndGlyphs">C</text><text x="236.9" y="298.9" textLength="40.7" lengthAdjust="spacingAndGlyphs">for 3h</text>
<text x="168.3" y="325.6" textLength="52.7" lengthAdjust="spacingAndGlyphs">800-875</text><text x="226.2" y="325.6">°</text><text x="229.5" y="325.6" textLength="10.2" lengthAdjust="spacingAndGlyphs">C</text><text x="241.4" y="325.6" textLength="47.7" lengthAdjust="spacingAndGlyphs">for 12h</text>
<text x="423.3" y="324.2" textLength="22.9" lengthAdjust="spacingAndGlyphs">450</text><text x="447.6" y="324.2">°</text><text x="451.5" y="324.2" textLength="9.5" lengthAdjust="spacingAndGlyphs">C</text><text x="461.2" y="324.2" textLength="41.6" lengthAdjust="spacingAndGlyphs">for 5h</text>
<text x="438" y="373.6">5</text><text x="447.3" y="373.6">°</text><text x="451.2" y="373.6" textLength="7.8" lengthAdjust="spacingAndGlyphs">C</text><text x="458.3" y="373.6" textLength="29.6" lengthAdjust="spacingAndGlyphs">/min</text>
<text x="251.8" y="366.2">5</text><text x="261.3" y="366.2">°</text><text x="265.2" y="366.2" textLength="7.8" lengthAdjust="spacingAndGlyphs">C</text><text x="272.3" y="366.2" textLength="30" lengthAdjust="spacingAndGlyphs">/min</text>
</g>
<!-- crucible 1 -->
<g>
  <path d="M365.2,342.5 Q372,341.5 378.5,342.6 Q385,343.6 392,342.3 L390,353.5 Q389.5,357.6 385,357.6 L372,357.6 Q367.5,357.6 367,353.5 Z" fill="#3c3a22" stroke="#151515" stroke-width="1.4"/>
  <path d="M363.6,326 L366.7,354 M393.3,326 L390.2,354" stroke="#8a8aa8" stroke-width="1" fill="none"/>
  <ellipse cx="378.5" cy="324.6" rx="15.2" ry="7.4" fill="#fff" stroke="#2c2e70" stroke-width="1.8"/>
</g>
<!-- beaker 2 -->
<g>
  <path d="M543,339 Q558,337.6 574.2,340 L571.5,353.5 Q571,357.2 566,357.2 L551,357.2 Q546.5,357.2 546,353.5 Z" fill="#bed48e" stroke="#161626" stroke-width="1.6"/>
  <path d="M541.2,319 L545.8,354.5 M576.6,319 L571.8,354.5" stroke="#9090b0" stroke-width="1" fill="none"/>
  <ellipse cx="558.8" cy="316.4" rx="17.8" ry="9" fill="#fff" stroke="#2c3070" stroke-width="1.8"/>
</g>
</svg>
</body></html>
